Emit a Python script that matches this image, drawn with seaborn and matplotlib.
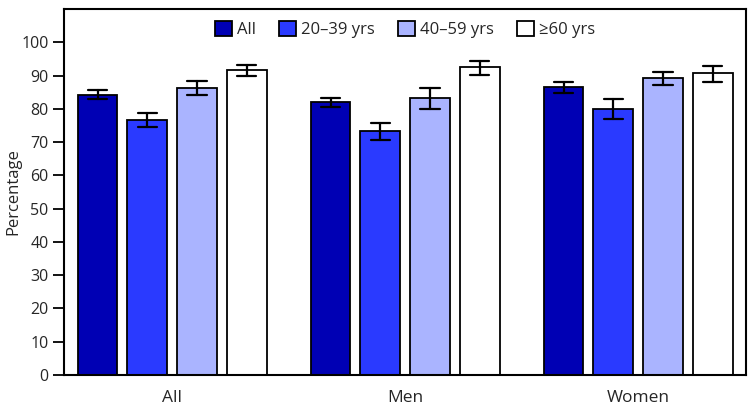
import numpy as np
import pandas as pd

import matplotlib
matplotlib.use("Agg")
import matplotlib.pyplot as plt
import seaborn as sns

# groups on the x axis and the age series
groups = ["All", "Men", "Women"]
ages = ["All", "20\u201339 yrs", "40\u201359 yrs", "\u226560 yrs"]

# percentage and 95% CI bounds, one row per group, one column per age series
pct = [
    [84.3, 76.7, 86.4, 91.6],
    [82.0, 73.2, 83.3, 92.7],
    [86.5, 80.0, 89.4, 90.9],
]
ci_low = [
    [82.9, 74.4, 84.2, 89.9],
    [80.5, 70.5, 79.8, 90.3],
    [84.8, 76.8, 87.2, 88.2],
]
ci_high = [
    [85.7, 78.7, 88.3, 93.2],
    [83.3, 75.7, 86.3, 94.3],
    [88.0, 83.0, 91.1, 93.0],
]

colors = ["#0000B4", "#2A3AFF", "#AAB4FF", "#FFFFFF"]

# long form: low / estimate / high per bar -> median is the bar, min-max the error bar
rows = []
for gi, g in enumerate(groups):
    for ai, a in enumerate(ages):
        for v in (ci_low[gi][ai], pct[gi][ai], ci_high[gi][ai]):
            rows.append({"group": g, "age": a, "value": v})
df = pd.DataFrame(rows)

sns.set_style("white")
plt.rcParams["font.family"] = ["Open Sans", "DejaVu Sans"]

fig = plt.figure(figsize=(7.5, 4.09), dpi=100)
ax = fig.add_axes([0.0853, 0.083, 0.9094, 0.895])

sns.barplot(data=df, x="group", y="value", hue="age", order=groups, hue_order=ages,
            palette=colors, estimator="median",
            errorbar=lambda v: (v.min(), v.max()),
            width=0.853, gap=0.2, capsize=0.33,
            err_kws={"color": "black", "linewidth": 1.6},
            edgecolor="black", linewidth=1.3, saturation=1, ax=ax)

ax.set_xlim(-0.464, 2.463)
ax.set_ylim(0, 110)
ax.set_yticks(np.arange(0, 101, 10))
ax.set_xlabel("")
ax.set_ylabel("Percentage", fontsize=12, labelpad=0)
ax.tick_params(axis="y", which="major", left=True, length=8, width=1.3,
               labelsize=11.5, color="black", pad=3)
ax.tick_params(axis="x", bottom=False, labelsize=12.5, pad=7)
for s in ax.spines.values():
    s.set_visible(True)
    s.set_color("black")
    s.set_linewidth(1.5)

leg = ax.legend(loc="upper center", bbox_to_anchor=(0.5, 1.0), ncol=4, frameon=False,
                fontsize=12, handlelength=1.0, handleheight=1.0, handletextpad=0.3,
                columnspacing=1.4, borderaxespad=0.3)
for h in leg.legend_handles:
    h.set_edgecolor("black")
    h.set_linewidth(1.3)

fig.savefig("out.png", dpi=100)
plt.close(fig)
